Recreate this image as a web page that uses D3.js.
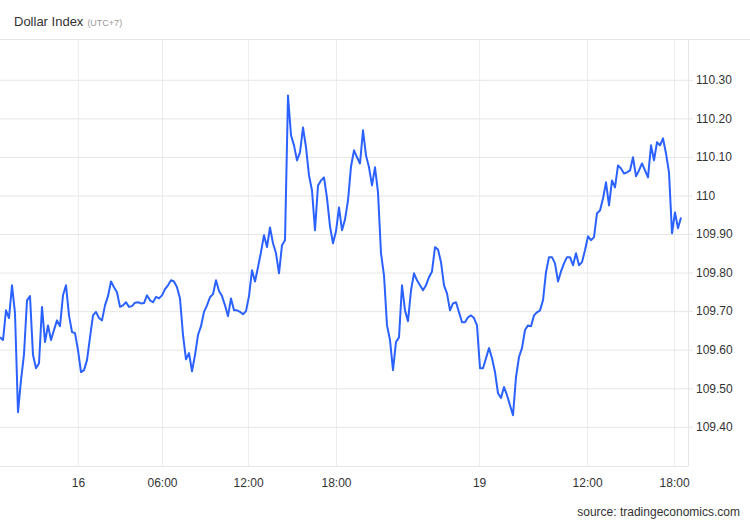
<!DOCTYPE html>
<html>
<head>
<meta charset="utf-8">
<script src="https://cdn.jsdelivr.net/npm/d3@7"></script>
<style>
  body { margin: 0; background: #fff; }
  svg { display: block; font-family: "Liberation Sans", Arial, sans-serif; }
  .grid line { stroke: #e6e6e6; }
  .xgrid line { stroke: #e9eef3; }
  .axis text { fill: #333; font-size: 12px; }
</style>
</head>
<body>
<svg width="750" height="520"></svg>
<script>
// Dollar Index, evenly spaced samples (trading time), 16th -> 19th
const values = [
  109.632, 109.625, 109.702, 109.682, 109.767, 109.695, 109.438, 109.521, 109.588, 109.728,
  109.739, 109.586, 109.552, 109.565, 109.711, 109.620, 109.663, 109.625, 109.651, 109.676,
  109.661, 109.741, 109.767, 109.689, 109.646, 109.643, 109.599, 109.542, 109.547, 109.573,
  109.632, 109.689, 109.698, 109.682, 109.676, 109.715, 109.739, 109.777, 109.762, 109.749,
  109.711, 109.715, 109.723, 109.711, 109.713, 109.722, 109.723, 109.720, 109.721, 109.741,
  109.728, 109.723, 109.737, 109.733, 109.741, 109.757, 109.767, 109.780, 109.777, 109.762,
  109.733, 109.638, 109.575, 109.591, 109.544, 109.586, 109.638, 109.661, 109.698, 109.715,
  109.736, 109.744, 109.780, 109.752, 109.739, 109.715, 109.687, 109.733, 109.702, 109.702,
  109.698, 109.692, 109.700, 109.739, 109.806, 109.777, 109.814, 109.853, 109.897, 109.866,
  109.917, 109.876, 109.850, 109.798, 109.871, 109.884, 110.259, 110.156, 110.130, 110.091,
  110.112, 110.176, 110.125, 110.052, 110.013, 109.910, 110.026, 110.039, 110.047, 109.993,
  109.920, 109.876, 109.907, 109.969, 109.910, 109.938, 109.987, 110.075, 110.117, 110.099,
  110.083, 110.169, 110.104, 110.073, 110.026, 110.073, 110.008, 109.850, 109.793, 109.663,
  109.625, 109.547, 109.620, 109.632, 109.767, 109.702, 109.674, 109.754, 109.798, 109.780,
  109.767, 109.754, 109.767, 109.788, 109.803, 109.866, 109.860, 109.827, 109.767, 109.746,
  109.702, 109.720, 109.723, 109.697, 109.671, 109.671, 109.684, 109.689, 109.682, 109.663,
  109.552, 109.552, 109.578, 109.604, 109.578, 109.542, 109.487, 109.475, 109.503, 109.482,
  109.456, 109.430, 109.529, 109.581, 109.604, 109.651, 109.663, 109.661, 109.689, 109.697,
  109.702, 109.728, 109.801, 109.840, 109.840, 109.824, 109.777, 109.803, 109.824, 109.840,
  109.840, 109.819, 109.850, 109.819, 109.827, 109.858, 109.894, 109.884, 109.892, 109.954,
  109.961, 109.992, 110.034, 109.974, 110.039, 110.021, 110.078, 110.070, 110.057, 110.060,
  110.065, 110.099, 110.050, 110.065, 110.083, 110.065, 110.047, 110.130, 110.091, 110.138,
  110.130, 110.148, 110.109, 110.060, 109.902, 109.956, 109.915, 109.943
];

// sample index where each time label falls
const xTickIdx = [26, 54, 82.7, 112, 159.7, 195.7, 224.7];
const xTickLabels = ["16", "06:00", "12:00", "18:00", "19", "12:00", "18:00"];
const yTicks = [109.4, 109.5, 109.6, 109.7, 109.8, 109.9, 110.0, 110.1, 110.2, 110.3];

const svg = d3.select("svg");
const plotTop = 39, plotBottom = 466, axisX = 688;

const x = d3.scaleLinear().domain([0, values.length - 1]).range([0, 681]);
const y = d3.scaleLinear().domain([109.4, 110.3]).range([426.8, 79.8]);

// frame
svg.append("line").attr("x1", 0).attr("x2", 750).attr("y1", plotTop + 0.5).attr("y2", plotTop + 0.5)
  .attr("stroke", "#e6e6e6");

// vertical grid + time labels
const xAxis = svg.append("g")
  .attr("class", "axis xgrid")
  .attr("transform", "translate(0," + plotBottom + ")")
  .call(d3.axisBottom(x)
    .tickValues(xTickIdx)
    .tickSize(-(plotBottom - plotTop))
    .tickPadding(12)
    .tickFormat(function(d, i) { return xTickLabels[i]; }));
xAxis.select(".domain").remove();

// horizontal grid
const yGrid = svg.append("g")
  .attr("class", "grid")
  .attr("transform", "translate(" + axisX + ",0)")
  .call(d3.axisLeft(y).tickValues(yTicks).tickSize(axisX).tickFormat(""));
yGrid.select(".domain").remove();

svg.append("line").attr("x1", 0).attr("x2", axisX).attr("y1", plotBottom + 0.5).attr("y2", plotBottom + 0.5)
  .attr("stroke", "#e6e6e6");
svg.append("line").attr("x1", axisX + 0.5).attr("x2", axisX + 0.5).attr("y1", plotTop).attr("y2", plotBottom)
  .attr("stroke", "#e6e6e6");

// price labels
const yAxis = svg.append("g")
  .attr("class", "axis grid")
  .attr("transform", "translate(" + axisX + ",0)")
  .call(d3.axisRight(y)
    .tickValues(yTicks)
    .tickSize(5)
    .tickPadding(3)
    .tickFormat(function(d) { return Math.abs(d - 110) < 1e-9 ? "110" : d.toFixed(2); }));
yAxis.select(".domain").remove();

// line
svg.append("path")
  .datum(values)
  .attr("fill", "none")
  .attr("stroke", "#2b62ff")
  .attr("stroke-width", 2)
  .attr("stroke-linejoin", "round")
  .attr("d", d3.line()
    .x(function(d, i) { return x(i); })
    .y(function(d) { return y(d); }));

// title
const title = svg.append("text").attr("x", 14).attr("y", 26)
  .attr("font-size", 13).attr("fill", "#333");
title.append("tspan").text("Dollar Index");
title.append("tspan").attr("font-size", 9).attr("fill", "#999").attr("dx", 4).text("(UTC+7)");

svg.append("text").attr("x", 740).attr("y", 516).attr("text-anchor", "end")
  .attr("font-size", 12).attr("fill", "#333").text("source: tradingeconomics.com");
</script>
</body>
</html>
